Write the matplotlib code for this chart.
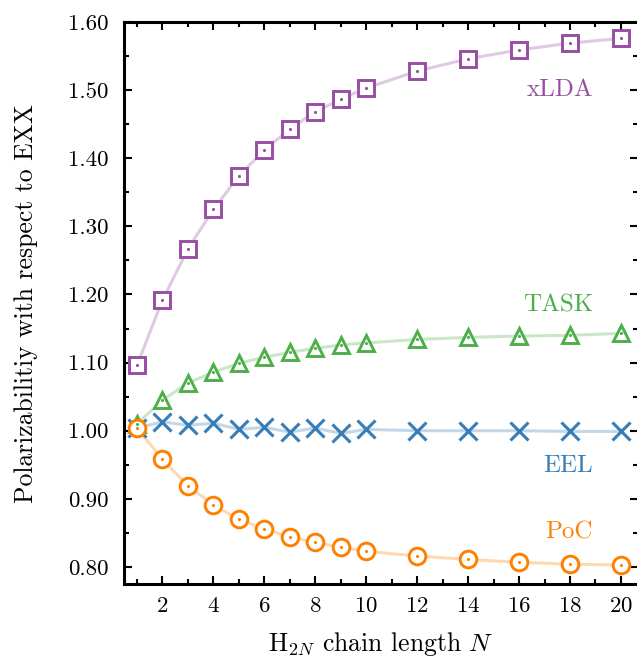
import matplotlib
matplotlib.use("Agg")
import matplotlib.pyplot as plt
from matplotlib.ticker import MultipleLocator, FormatStrFormatter

plt.rcParams['font.family'] = 'serif'
plt.rcParams['font.serif'] = ['cmr10', 'DejaVu Serif']
plt.rcParams['mathtext.fontset'] = 'cm'
plt.rcParams['axes.formatter.use_mathtext'] = True

N = [1, 2, 3, 4, 5, 6, 7, 8, 9, 10, 12, 14, 16, 18, 20]
xlda = [1.096, 1.192, 1.267, 1.325, 1.374, 1.412, 1.443, 1.468, 1.487, 1.503,
        1.528, 1.546, 1.559, 1.569, 1.576]
task = [1.010, 1.045, 1.070, 1.086, 1.099, 1.108, 1.115, 1.121, 1.126, 1.129,
        1.134, 1.137, 1.139, 1.140, 1.143]
eel = [1.004, 1.013, 1.008, 1.011, 1.002, 1.005, 0.998, 1.004, 0.996, 1.002,
       1.000, 1.000, 1.000, 0.999, 0.999]
poc = [1.004, 0.958, 0.919, 0.891, 0.870, 0.856, 0.844, 0.836, 0.829, 0.823,
       0.816, 0.811, 0.807, 0.804, 0.803]

series = [
    ("xLDA", xlda, "#984ea3", "s", 1.50),
    ("TASK", task, "#4daf4a", "^", 1.184),
    ("EEL", eel, "#377eb8", "x", 0.949),
    ("PoC", poc, "#ff7f00", "o", 0.850),
]

fig = plt.figure(figsize=(6.37, 6.57), dpi=100)
ax = fig.add_axes([0.1947, 0.1111, 0.8069, 0.8554])

for name, vals, col, mk, ly in series:
    ax.plot(N, vals, color=col, alpha=0.3, lw=2.2, zorder=1)
    if mk == "x":
        ax.plot(N, vals, ls='none', marker='x', ms=12.5, mew=2.2, color=col, zorder=3)
    else:
        ms = 11 if mk == "s" else 12
        ax.plot(N, vals, ls='none', marker=mk, ms=ms, mew=2.1, mfc='white',
                mec=col, zorder=3)
        ax.plot(N, vals, ls='none', marker='.', ms=2.5, color=col, zorder=4)
    ax.text(18.9, ly, name, color=col, fontsize=18, ha='right', va='center')

ax.set_xlim(0.49, 20.67)
ax.set_ylim(0.775, 1.60)
ax.xaxis.set_major_locator(MultipleLocator(2))
ax.xaxis.set_minor_locator(MultipleLocator(1))
ax.yaxis.set_major_locator(MultipleLocator(0.1))
ax.yaxis.set_minor_locator(MultipleLocator(0.05))
ax.yaxis.set_major_formatter(FormatStrFormatter('%.2f'))
ax.set_xticks([2, 4, 6, 8, 10, 12, 14, 16, 18, 20])

ax.tick_params(which='both', direction='in', top=True, right=True, labelsize=16.5,
               width=1.5, colors='black')
ax.tick_params(which='major', length=6)
ax.tick_params(axis='x', which='major', pad=9)
ax.tick_params(axis='y', which='major', pad=11)
ax.tick_params(which='minor', length=3.5)
for sp in ax.spines.values():
    sp.set_linewidth(2.2)

ax.set_xlabel(r"H$_{2N}$ chain length $N$", fontsize=18.5, labelpad=10)
ax.set_ylabel("Polarizabilitiy with respect to EXX", fontsize=18.5, labelpad=22)

fig.savefig("out.png", dpi=100)
